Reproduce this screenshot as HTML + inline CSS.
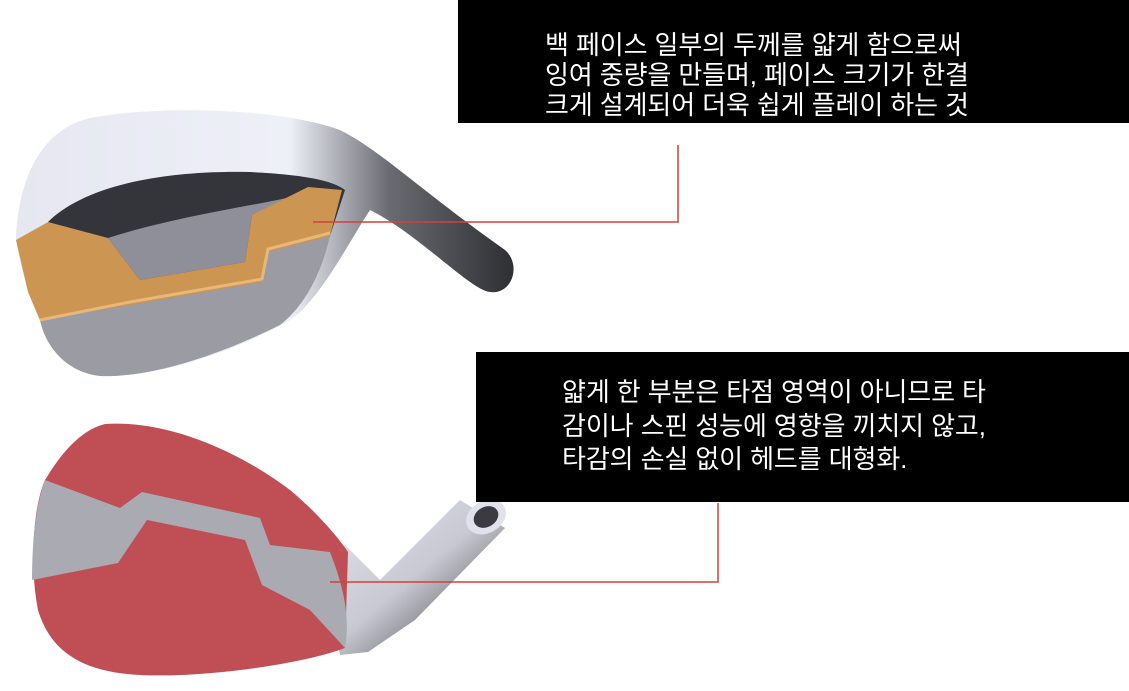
<!DOCTYPE html>
<html><head><meta charset="utf-8"><style>
body{margin:0;width:1129px;height:691px;background:#fff;overflow:hidden;position:relative;font-family:"Liberation Sans","Noto Sans CJK KR",sans-serif}
.box{position:absolute;background:#000;color:#fff;font-size:26px;letter-spacing:-0.1px}
</style></head><body>
<svg width="1129" height="691" style="position:absolute;left:0;top:0">
<defs>
<linearGradient id="top" x1="0" y1="0" x2="1" y2="0"><stop offset="0" stop-color="#e6e7f0"/><stop offset="0.55" stop-color="#eef0f8"/><stop offset="0.75" stop-color="#6a6b72"/><stop offset="1" stop-color="#2e2f33"/></linearGradient>
<linearGradient id="pipe" x1="0" y1="0" x2="1" y2="1"><stop offset="0" stop-color="#e4e5ee"/><stop offset="0.5" stop-color="#c8c9d2"/><stop offset="1" stop-color="#2c2c30"/></linearGradient>
</defs>
<path d="M16,240 C18,180 40,130 90,118 C160,105 280,108 340,130 C380,150 420,190 505,250 C522,265 512,295 490,292 C470,290 420,235 370,210 C350,240 320,300 290,320 C230,355 150,378 100,376 C60,372 30,320 16,240 Z" fill="url(#top)"/>
<path d="M48,222 C80,190 150,170 250,172 C290,174 330,178 345,190 L330,236 L268,252 L262,282 L130,305 L40,320 Z" fill="#34353b"/>
<path d="M40,320 L130,305 L262,282 L268,252 L330,236 C320,280 300,310 280,325 C220,355 150,378 100,376 C65,372 45,345 40,320 Z" fill="#9a9ba3"/>
<path d="M108,238 L140,280 L245,262 L252,215 L300,195 C260,205 180,215 108,238 Z" fill="#8e8f98"/>
<path d="M16,240 L48,222 L108,238 L140,280 L245,262 L252,215 L308,187 L342,190 L330,236 L268,252 L262,282 L130,305 L40,320 L28,292 Z" fill="#cc9552"/>
<path d="M40,320 L130,302 L262,279 L268,249 L330,233" fill="none" stroke="#e8b878" stroke-width="3"/>
<path d="M320,560 L345,545 L380,580 L460,500 L505,528 L415,620 L368,652 L340,655 Z" fill="url(#pipe)"/>
<ellipse cx="486" cy="517" rx="21" ry="16" transform="rotate(-30 486 517)" fill="#e0e1ea"/>
<ellipse cx="486" cy="517" rx="13" ry="10" transform="rotate(-30 486 517)" fill="#3a3a40"/>
<path d="M45,480 C60,455 80,430 105,424 C160,420 230,445 290,490 C320,515 340,540 348,552 L345,648 C300,665 200,678 140,675 C80,672 50,650 38,610 C30,570 32,510 45,480 Z" fill="#c04f55"/>
<path d="M45,480 L120,508 L142,492 L260,518 L270,545 L330,552 C345,590 350,620 345,648 L310,610 L262,585 L245,540 L147,520 L118,563 L32,580 C32,540 36,505 45,480 Z" fill="#a9aab2"/>
<polyline points="313,222 678,222 678,145" fill="none" stroke="#d0423a" stroke-width="1.5"/>
<polyline points="330,582 718,582 718,503" fill="none" stroke="#d0423a" stroke-width="1.5"/>
</svg>
<div class="box" style="left:458px;top:0;width:671px;height:123px;">
<div style="position:absolute;left:87px;top:30px;white-space:nowrap;line-height:30px">백 페이스 일부의 두께를 얇게 함으로써<br>잉여 중량을 만들며, 페이스 크기가 한결<br>크게 설계되어 더욱 쉽게 플레이 하는 것</div></div>
<div class="box" style="left:476px;top:352px;width:653px;height:150px;">
<div style="position:absolute;left:86px;top:24px;white-space:nowrap;line-height:33.5px">얇게 한 부분은 타점 영역이 아니므로 타<br>감이나 스핀 성능에 영향을 끼치지 않고,<br>타감의 손실 없이 헤드를 대형화.</div></div>
</body></html>
